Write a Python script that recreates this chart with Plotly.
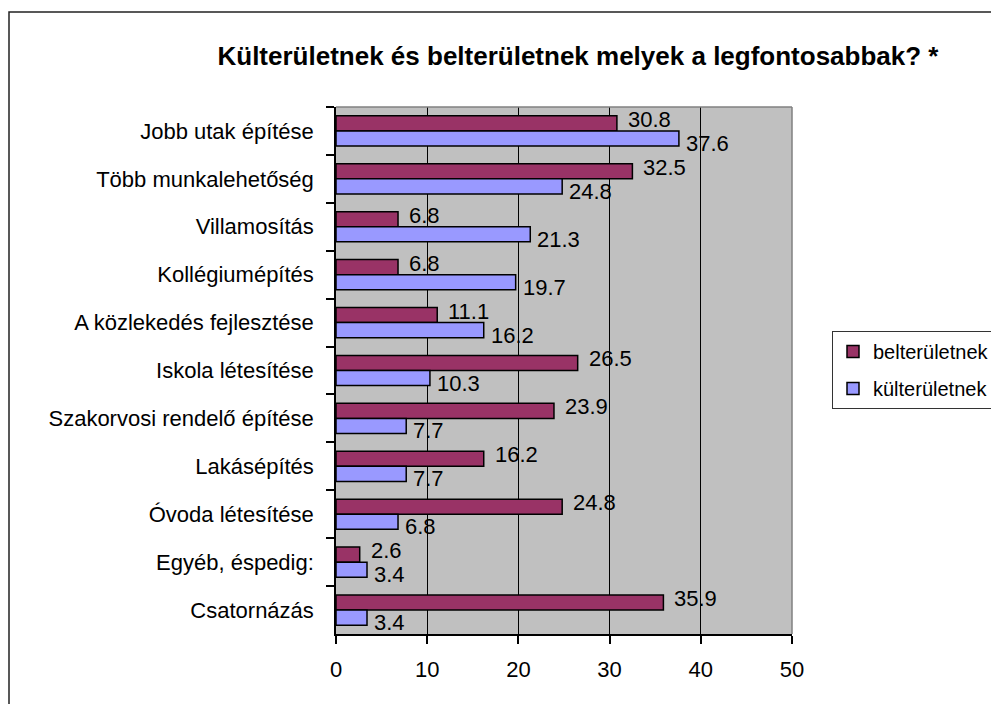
import plotly.graph_objects as go

categories = [
    "Jobb utak építése",
    "Több munkalehetőség",
    "Villamosítás",
    "Kollégiumépítés",
    "A közlekedés fejlesztése",
    "Iskola létesítése",
    "Szakorvosi rendelő építése",
    "Lakásépítés",
    "Óvoda létesítése",
    "Egyéb, éspedig:",
    "Csatornázás",
]
belterulet = [30.8, 32.5, 6.8, 6.8, 11.1, 26.5, 23.9, 16.2, 24.8, 2.6, 35.9]
kulterulet = [37.6, 24.8, 21.3, 19.7, 16.2, 10.3, 7.7, 7.7, 6.8, 3.4, 3.4]
x_ticks = [0, 10, 20, 30, 40, 50]

FONT = "Liberation Sans, Arial, sans-serif"
OFF = 8  # page body margin offset
W, H = 999 - OFF, 704 - OFF
PL, PR, PT, PB = 336, 792, 107, 634
L, T = PL - OFF, PT - OFF
R = W - (PR - OFF)
B = H - (PB - OFF)
PW, PH = W - L - R, H - T - B
BARGAP = 0.37


def px_x(px):
    return (px - OFF - L) / PW


def px_y(py):
    return (H - B - (py - OFF)) / PH


fig = go.Figure()
fig.add_trace(go.Bar(
    y=categories, x=belterulet, orientation="h", name="belterületnek",
    marker=dict(color="#993366", line=dict(color="black", width=1.5)),
    legendgroup="a",
))
fig.add_trace(go.Bar(
    y=categories, x=kulterulet, orientation="h", name="külterületnek",
    marker=dict(color="#9999FF", line=dict(color="black", width=1.5)),
    legendgroup="b",
))

# data labels placed just past each bar end (bar centres from the group layout)
half = (1 - BARGAP) / 4
annotations = []
for series, off, xs, ys in ((belterulet, -half, 9, 4), (kulterulet, half, 5, -5)):
    for i, v in enumerate(series):
        annotations.append(dict(
            x=v, y=i + off, xref="x", yref="y",
            text=f"{v:.1f}", showarrow=False,
            xanchor="left", yanchor="middle", xshift=xs, yshift=ys,
            font=dict(family=FONT, size=22, color="black"),
        ))

fig.update_layout(
    width=W, height=H,
    margin=dict(l=L, r=R, t=T, b=B, autoexpand=False),
    paper_bgcolor="white",
    plot_bgcolor="#C0C0C0",
    barmode="group",
    bargap=BARGAP,
    bargroupgap=0,
    font=dict(family=FONT, size=22, color="black"),
    title=dict(
        text="<b>Külterületnek és belterületnek melyek a legfontosabbak? *</b>",
        font=dict(family=FONT, size=26, color="black"),
        x=(578 - OFF) / W, xanchor="center", xref="container",
        y=1 - (56 - OFF) / H, yanchor="middle", yref="container",
    ),
    xaxis=dict(
        range=[0, 50], tickvals=x_ticks, ticktext=[str(v) for v in x_ticks],
        showgrid=True, gridcolor="black", gridwidth=1,
        zeroline=False,
        showline=True, linecolor="black", linewidth=1.5,
        ticks="outside", ticklen=8, tickcolor="black", tickwidth=1.5,
        tickfont=dict(family=FONT, size=22, color="black"),
        ticklabelstandoff=7,
        fixedrange=True,
    ),
    yaxis=dict(
        categoryorder="array", categoryarray=categories,
        autorange="reversed",
        showgrid=False, zeroline=False,
        showline=True, linecolor="black", linewidth=1.5,
        ticks="outside", ticklen=8, tickcolor="black", tickwidth=1.5,
        tickson="boundaries",
        tickfont=dict(family=FONT, size=22, color="black"),
        ticklabelstandoff=16,
        fixedrange=True,
    ),
    legend=dict(
        x=px_x(832), y=px_y(331),
        xanchor="left", yanchor="top",
        bordercolor="#333333", borderwidth=1, bgcolor="white",
        font=dict(family=FONT, size=20, color="black"),
        traceorder="grouped", tracegroupgap=8,
    ),
    showlegend=True,
    annotations=annotations,
    shapes=[
        dict(type="line", xref="paper", yref="paper", x0=0, x1=1, y0=1, y1=1,
             line=dict(color="#808080", width=1.5), layer="above"),
        dict(type="line", xref="paper", yref="paper", x0=1, x1=1, y0=0, y1=1,
             line=dict(color="#808080", width=1.5), layer="above"),
        dict(type="rect", xref="paper", yref="paper",
             x0=px_x(9), x1=px_x(1010),
             y0=px_y(715), y1=px_y(12),
             line=dict(color="#222222", width=1.5), fillcolor="rgba(0,0,0,0)",
             layer="above"),
    ],
)

fig.write_html("out.html")
